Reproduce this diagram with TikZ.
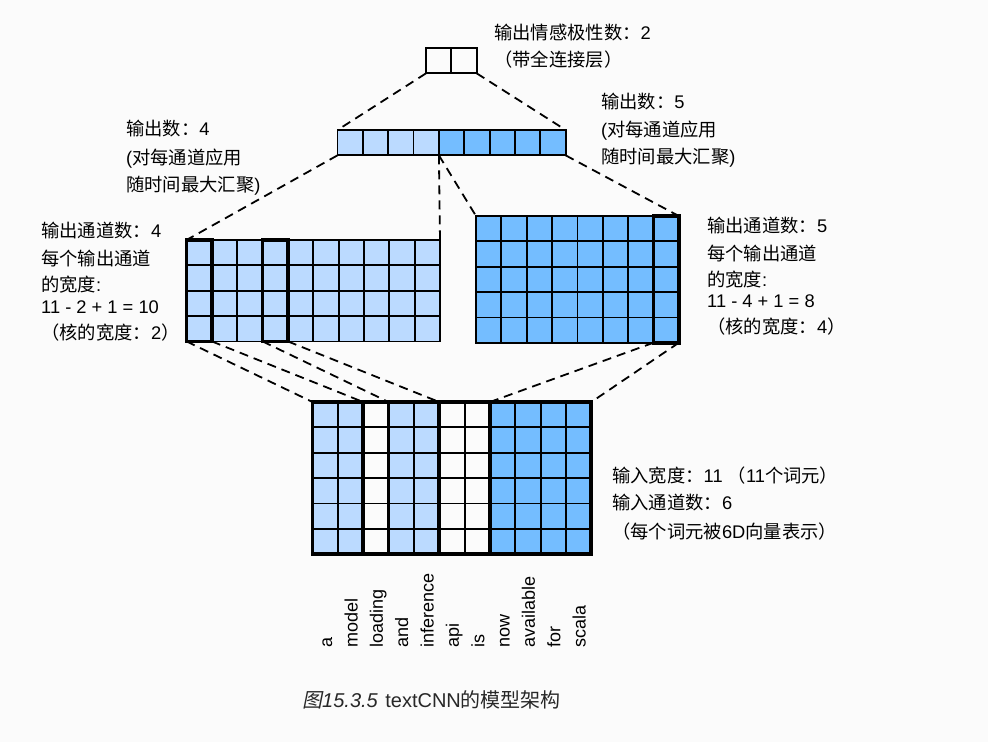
\documentclass[tikz,border=0pt]{standalone}
\usepackage{fontspec}
\setmainfont{Noto Sans CJK SC}
\newfontfamily\capit[FakeSlant=0.2]{Noto Sans CJK SC}
\newfontfamily\lat{Liberation Sans}
\definecolor{lb}{RGB}{187,218,255}
\definecolor{db}{RGB}{116,189,255}
\definecolor{bg}{RGB}{251,251,251}
\definecolor{capc}{RGB}{40,40,40}
\def\c{25.35}
\newcommand\cellgrid[4]{%
  \foreach \col [count=\i from 0] in {#4} {
    \foreach \j in {1,...,#3} {
      \filldraw[cell,fill=\col] ({#1+\i*\c},{#2+(\j-1)*\c}) rectangle ++(\c,\c);
    }
  }%
}
\begin{document}
\begin{tikzpicture}[x=1pt,y=-1pt,
  cell/.style={draw=black,line width=1.8pt},
  win/.style={draw=black,line width=3.8pt},
  link/.style={draw=black,line width=1.8pt,dash pattern=on 9pt off 6pt},
  lbl/.style={anchor=base west,inner sep=0pt,font=\fontsize{18.3}{22}\selectfont},
  word/.style={rotate=90,anchor=base west,inner sep=0pt,font=\lat\fontsize{18}{22}\selectfont}]
\fill[bg] (0,0) rectangle (988,742);
\useasboundingbox (0,0) rectangle (988,742);

% top output (2 cells)
\cellgrid{426}{48}{1}{bg,bg}
% 1D pooled bar
\cellgrid{337.5}{130}{1}{lb,lb,lb,lb,db,db,db,db,db}
% left feature map (10 x 4)
\cellgrid{186.5}{240}{4}{lb,lb,lb,lb,lb,lb,lb,lb,lb,lb}
\draw[win] (186.5,240) rectangle ++(\c,{4*\c});
\draw[win] ({186.5+3*\c},240) rectangle ++(\c,{4*\c});
% right feature map (8 x 5)
\cellgrid{476}{216}{5}{db,db,db,db,db,db,db,db}
\draw[win] ({476+7*\c},216) rectangle ++(\c,{5*\c});
% input (11 x 6)
\cellgrid{312.5}{402}{6}{lb,lb,bg,lb,lb,bg,bg,db,db,db,db}
\draw[win] (312.5,402) rectangle ++({11*\c},{6*\c});
\draw[win] (312.5,402) rectangle ++({2*\c},{6*\c});
\draw[win] ({312.5+3*\c},402) rectangle ++({2*\c},{6*\c});
\draw[win] ({312.5+7*\c},402) rectangle ++({4*\c},{6*\c});

% named corner coordinates
\coordinate (otbl) at (426,{48+\c});
\coordinate (otbr) at ({426+2*\c},{48+\c});
\coordinate (btl) at (337.5,130);
\coordinate (btr) at ({337.5+9*\c},130);
\coordinate (bbl) at (337.5,{130+\c});
\coordinate (bbm) at ({337.5+4*\c},{130+\c});
\coordinate (bbr) at ({337.5+9*\c},{130+\c});
\coordinate (lmtl) at (186.5,240);
\coordinate (lmtr) at ({186.5+10*\c},240);
\coordinate (rmtl) at (476,216);
\coordinate (rmtr) at ({476+8*\c},216);
\coordinate (lwa1) at (186.5,{240+4*\c});
\coordinate (lwa2) at ({186.5+\c},{240+4*\c});
\coordinate (lwb1) at ({186.5+3*\c},{240+4*\c});
\coordinate (lwb2) at ({186.5+4*\c},{240+4*\c});
\coordinate (rwa1) at ({476+7*\c},{216+5*\c});
\coordinate (rwa2) at ({476+8*\c},{216+5*\c});
\coordinate (ia1) at (312.5,402);
\coordinate (ia2) at ({312.5+2*\c},402);
\coordinate (ib1) at ({312.5+3*\c},402);
\coordinate (ib2) at ({312.5+5*\c},402);
\coordinate (ic1) at ({312.5+7*\c},402);
\coordinate (ic2) at ({312.5+11*\c},402);

% dashed connectors
\draw[link] (otbl) -- (btl);
\draw[link] (otbr) -- (btr);
\draw[link] (bbl) -- (lmtl);
\draw[link] (bbm) -- (lmtr);
\draw[link] (bbm) -- (rmtl);
\draw[link] (bbr) -- (rmtr);
\draw[link] (lwa1) -- (ia1);
\draw[link] (lwa2) -- (ia2);
\draw[link] (lwb1) -- (ib1);
\draw[link] (lwb2) -- (ib2);
\draw[link] (rwa1) -- (ic1);
\draw[link] (rwa2) -- (ic2);

% labels
\node[lbl] (t1) at (494,39.6) {输出情感极性数：{\lat 2}};
\node[lbl] (t2) at (494,66) {（带全连接层）};
\node[lbl] (br1) at (601,108.5) {输出数：{\lat 5}};
\node[lbl] (br2) at (601,136.3) {{\lat (}对每通道应用};
\node[lbl] (br3) at (601,163.7) {随时间最大汇聚{\lat )}};
\node[lbl] (bl1) at (126,135.8) {输出数：{\lat 4}};
\node[lbl] (bl2) at (126,164) {{\lat (}对每通道应用};
\node[lbl] (bl3) at (126,191.8) {随时间最大汇聚{\lat )}};
\node[lbl] (ll1) at (41,237.8) {输出通道数：{\lat 4}};
\node[lbl] (ll2) at (41,265) {每个输出通道};
\node[lbl] (ll3) at (41,291) {的宽度{\lat :}};
\node[lbl] (ll4) at (41,313.3) {\lat 11 - 2 + 1 = 10};
\node[lbl] (ll5) at (41,339.3) {（核的宽度：{\lat 2}）};
\node[lbl] (rl1) at (707,232.8) {输出通道数：{\lat 5}};
\node[lbl] (rl2) at (707,260) {每个输出通道};
\node[lbl] (rl3) at (707,286.8) {的宽度{\lat :}};
\node[lbl] (rl4) at (707,307.5) {\lat 11 - 4 + 1 = 8};
\node[lbl] (rl5) at (707,333.5) {（核的宽度：{\lat 4}）};
\node[lbl] (in1) at (612,482.3) {输入宽度：{\lat 11 }（{\lat 11}个词元）};
\node[lbl] (in2) at (612,509.8) {输入通道数：{\lat 6}};
\node[lbl] (in3) at (612,538) {（每个词元被{\lat 6D}向量表示）};

% words
\foreach \w [count=\k from 0] in {a,model,loading,and,inference,api,is,now,available,for,scala} {
  \node[word] (w\k) at ({312.5+(\k+0.5)*\c+7},648) {\w};
}

% caption
\node[lbl,text=capc,font=\fontsize{20}{24}\selectfont] (cap) at (302,707.5) {{\capit 图}{\lat\itshape 15.3.5\hspace{2pt} }{\lat textCNN}的模型架构};
\end{tikzpicture}
\end{document}
